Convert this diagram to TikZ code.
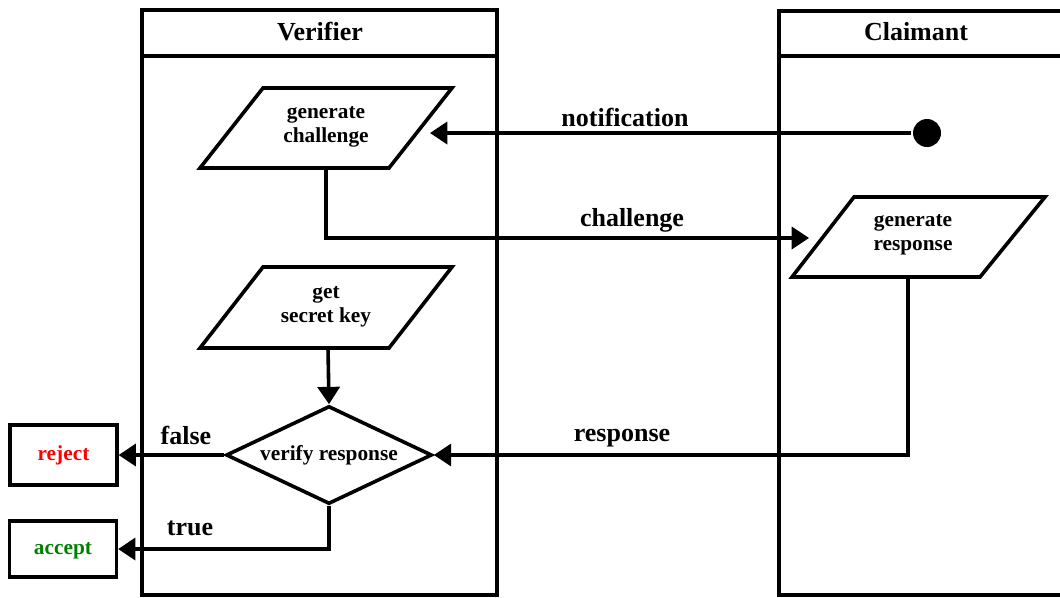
\documentclass[tikz,border=0pt]{standalone}
\usepackage{fontspec}
\setmainfont{Liberation Serif}
\usetikzlibrary{arrows.meta,shapes.geometric}
\definecolor{acceptgreen}{RGB}{0,128,0}
\begin{document}
\begin{tikzpicture}[x=0.75pt,y=-0.75pt,
  line width=2.7pt, line join=miter,
  arr/.style={-{Triangle[length=13pt,width=16.5pt]}},
  lanetitle/.style={font=\fontsize{19.5}{22}\selectfont\bfseries},
  lbl/.style={font=\fontsize{19.5}{22}\selectfont\bfseries},
  txt/.style={font=\fontsize{16}{18}\selectfont\bfseries, align=center},
  endbox/.style={draw, minimum width=80pt, inner sep=0pt, txt},
  decision/.style={diamond, draw, minimum width=154.5pt, minimum height=73.5pt, inner sep=0pt, aspect=2.1, txt},
  startdot/.style={circle, fill=black, minimum size=21pt, inner sep=0pt}
]
\clip (0,0) rectangle (1060,597);
% lanes
\draw (142,10) rectangle (497,595);
\draw (142,56) -- (497,56);
\draw (779,11) rectangle (1080,595);
\draw (779,56) -- (1080,56);
\node[lanetitle] (vt) at (320,32) {Verifier};
\node[lanetitle] (ct) at (916,32) {Claimant};

% generate challenge
\draw (263,88) -- (452,88) -- (389,168) -- (200,168) -- cycle;
\node[txt] (gc) at (326,127) {generate\\challenge};
\coordinate (gcb) at (326,168);
\coordinate (gcr) at (430,133);

% get secret key
\draw (263,267) -- (452,267) -- (389,348) -- (200,348) -- cycle;
\node[txt] (gsk) at (326,307) {get\\secret key};
\coordinate (gskb) at (328,348);

% generate response
\draw (854,197) -- (1045,197) -- (980,277) -- (792,277) -- cycle;
\node[txt] (gr) at (913,235) {generate\\response};
\coordinate (grl) at (809,238);
\coordinate (grb) at (908,277);

% start dot
\node[startdot] (dot) at (927,133) {};

% decision
\node[decision] (vr) at (329,455) {verify response};

% outcomes
\node[endbox, minimum height=45pt, text=red] (rej) at (63.5,455) {reject};
\node[endbox, minimum height=42pt, text=acceptgreen] (acc) at (63,549) {accept\vphantom{j}};

% connectors
\draw[arr] (dot) -- (gcr);
\node[lbl] (nl) at (625,117) {notification};
\draw[arr] (gcb) |- (grl);
\node[lbl] (cl) at (632,220) {challenge};
\draw[arr] (grb) |- (vr.east);
\node[lbl] (rl) at (622,438) {response};
\draw[arr] (gskb) -- (vr.north);
\draw[arr] (vr.west) -- (rej.east);
\node[lbl] (fl) at (186,435) {false};
\draw[arr] (vr.south) |- (acc.east);
\node[lbl] (tl) at (190,528) {true};
\end{tikzpicture}
\end{document}
